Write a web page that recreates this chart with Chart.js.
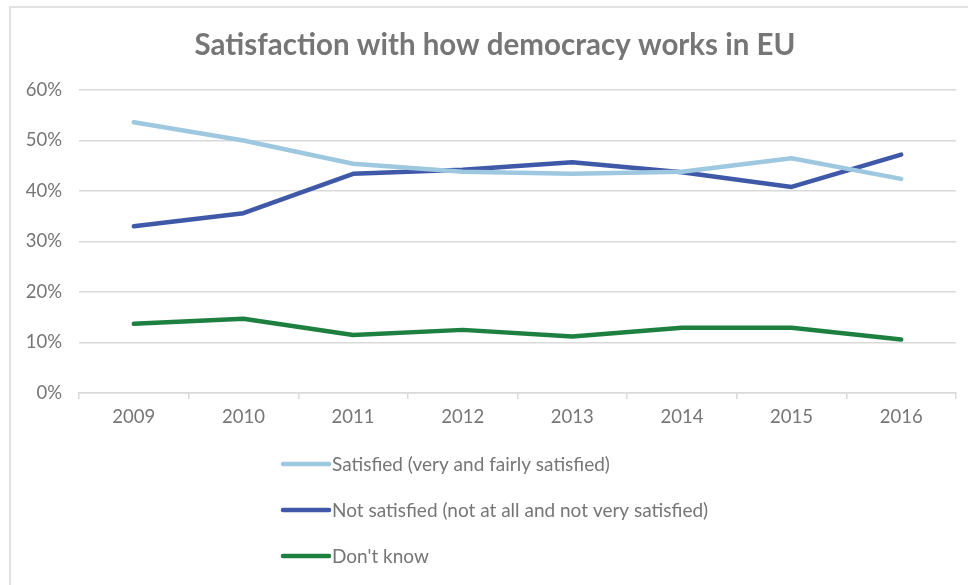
<!DOCTYPE html>
<html>
<head>
<meta charset="utf-8">
<script src="https://cdn.jsdelivr.net/npm/chart.js@4.4.1/dist/chart.umd.min.js"></script>
<style>
  html, body { margin: 0; padding: 0; background: #ffffff; overflow: hidden; }
  #wrap { width: 968px; height: 585px; position: relative; }
</style>
</head>
<body>
<div id="wrap"><canvas id="chart" width="968" height="585"></canvas></div>
<script>
// Survey years
const years = ['2009', '2010', '2011', '2012', '2013', '2014', '2015', '2016'];

// Share of respondents (%)
const satisfied    = [53.6, 50.0, 45.4, 43.8, 43.4, 43.8, 46.5, 42.4];
const notSatisfied = [33.0, 35.6, 43.4, 44.2, 45.7, 43.7, 40.8, 47.2];
const dontKnow     = [13.7, 14.7, 11.5, 12.5, 11.2, 12.9, 12.9, 10.6];

// Series labels
const seriesLabels = [
  'Satisfied (very and fairly satisfied)',
  'Not satisfied (not at all and not very satisfied)',
  "Don't know"
];

const chartTitle = 'Satisfaction with how democracy works in EU';

// Y axis range and step (%)
const yMin = 0, yMax = 60, yStep = 10;

const TEXT = '#767676';
const GRID = '#d9d9d9';
const FONT = 'Lato, "Open Sans", sans-serif';
const TICK_SIZE = 18.5;
const LEGEND_SIZE = 19;

// Light frame around the whole chart
const framePlugin = {
  id: 'frame',
  beforeDraw(chart) {
    const ctx = chart.ctx;
    ctx.save();
    ctx.strokeStyle = GRID;
    ctx.lineWidth = 1.5;
    ctx.strokeRect(10, 7, 1000, 1000);
    ctx.restore();
  }
};

// Title centred over the chart object (which extends past the right edge)
const headingPlugin = {
  id: 'heading',
  afterDraw(chart) {
    const ctx = chart.ctx;
    ctx.save();
    ctx.font = 'bold 29.5px ' + FONT;
    ctx.fillStyle = TEXT;
    ctx.textAlign = 'center';
    ctx.textBaseline = 'middle';
    ctx.fillText(chartTitle, 495, 45);
    ctx.restore();
  }
};

// Stacked legend below the axis, one series per row
const stackedLegend = {
  id: 'stackedLegend',
  afterDraw(chart) {
    const ctx = chart.ctx;
    const x0 = 283, lineLen = 46, gap = 3;
    const rows = [464, 510, 556];
    ctx.save();
    ctx.font = LEGEND_SIZE + 'px ' + FONT;
    ctx.textBaseline = 'middle';
    ctx.textAlign = 'left';
    chart.data.datasets.forEach((ds, i) => {
      const y = rows[i];
      ctx.strokeStyle = ds.borderColor;
      ctx.lineWidth = 4.5;
      ctx.lineCap = 'round';
      ctx.beginPath();
      ctx.moveTo(x0, y);
      ctx.lineTo(x0 + lineLen, y);
      ctx.stroke();
      ctx.fillStyle = TEXT;
      ctx.fillText(ds.label, x0 + lineLen + gap, y + 1);
    });
    ctx.restore();
  }
};

const lineStyle = {
  borderWidth: 4.5,
  borderCapStyle: 'round',
  borderJoinStyle: 'round',
  pointRadius: 0,
  pointHoverRadius: 0,
  tension: 0,
  fill: false
};

new Chart(document.getElementById('chart'), {
  type: 'line',
  data: {
    labels: years,
    datasets: [
      Object.assign({ label: seriesLabels[0], data: satisfied,    borderColor: '#9dc8df', backgroundColor: '#9dc8df' }, lineStyle),
      Object.assign({ label: seriesLabels[1], data: notSatisfied, borderColor: '#3f58a8', backgroundColor: '#3f58a8' }, lineStyle),
      Object.assign({ label: seriesLabels[2], data: dontKnow,     borderColor: '#1d8040', backgroundColor: '#1d8040' }, lineStyle)
    ]
  },
  options: {
    responsive: false,
    animation: false,
    layout: { padding: { left: 10, right: 12, top: 90, bottom: 152 } },
    plugins: {
      legend: { display: false },
      tooltip: { enabled: false },
      title: { display: false }
    },
    scales: {
      x: {
        offset: true,
        grid: { offset: true, drawOnChartArea: false, drawTicks: true, tickLength: 6, color: GRID, lineWidth: 1.5 },
        border: { display: true, color: GRID, width: 1.5 },
        ticks: { color: TEXT, font: { family: FONT, size: TICK_SIZE }, padding: 7, maxRotation: 0 },
        afterFit(s) { s.height = 40; }
      },
      y: {
        min: yMin,
        max: yMax,
        grid: { color: GRID, lineWidth: 1.5, drawTicks: false },
        border: { display: false },
        ticks: {
          stepSize: yStep,
          color: TEXT,
          font: { family: FONT, size: TICK_SIZE },
          padding: 17,
          callback: v => v + '%'
        },
        afterFit(s) { s.width = 69; }
      }
    }
  },
  plugins: [framePlugin, headingPlugin, stackedLegend]
});
</script>
</body>
</html>
